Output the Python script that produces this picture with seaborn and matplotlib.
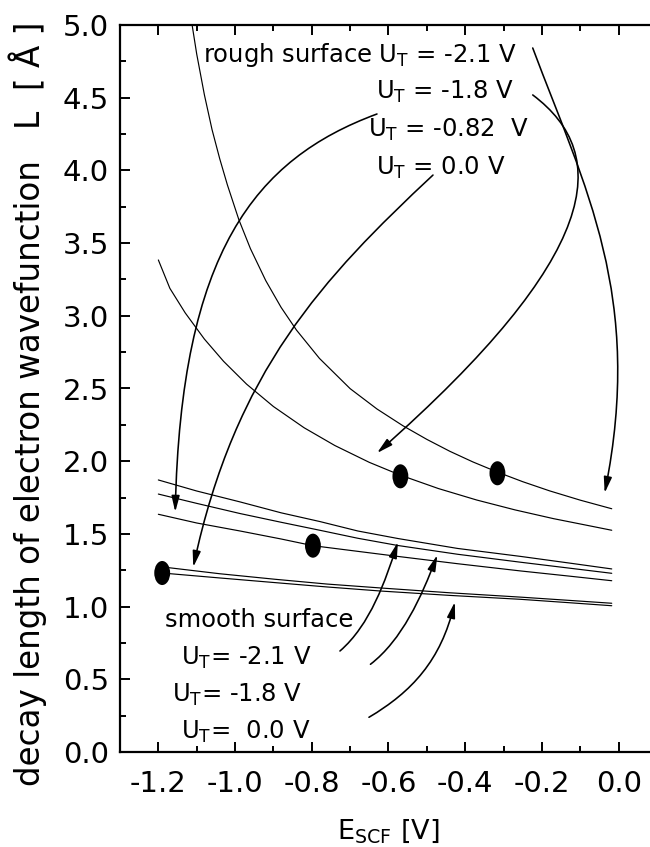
import numpy as np
import pandas as pd
import matplotlib
matplotlib.use("Agg")
import matplotlib.pyplot as plt
import seaborn as sns
from matplotlib.path import Path
from matplotlib.transforms import Affine2D
from matplotlib.patches import FancyArrowPatch
from matplotlib.ticker import MultipleLocator, FormatStrFormatter

# ---------------- data ----------------
# steep curve (rough surface)
curve_a_x = [-1.112, -1.10, -1.08, -1.06, -1.04, -1.02, -0.99, -0.96, -0.92, -0.88, -0.84,
             -0.78, -0.70, -0.63, -0.5625, -0.50, -0.44, -0.38, -0.315, -0.25, -0.18, -0.10, -0.018]
curve_a_y = [5.00, 4.80, 4.52, 4.28, 4.08, 3.90, 3.66, 3.462, 3.242, 3.058, 2.902,
             2.707, 2.499, 2.359, 2.244, 2.15, 2.068, 1.995, 1.924, 1.859, 1.796, 1.732, 1.673]
# second rough curve
curve_b_x = [-1.2, -1.17, -1.13, -1.08, -1.03, -0.97, -0.90, -0.82, -0.74, -0.65, -0.57,
             -0.47, -0.37, -0.27, -0.17, -0.09, -0.018]
curve_b_y = [3.384, 3.189, 3.02, 2.84, 2.687, 2.53, 2.376, 2.23, 2.108, 1.992, 1.905,
             1.812, 1.733, 1.665, 1.605, 1.563, 1.525]
# band of three curves
band_top_x = [-1.2, -1.1, -0.987, -0.88, -0.779, -0.68, -0.575, -0.42, -0.255, -0.13, -0.018]
band_top_y = [1.871, 1.795, 1.72, 1.645, 1.585, 1.52, 1.468, 1.40, 1.345, 1.30, 1.259]
band_mid_x = [-1.2, -1.1, -0.987, -0.88, -0.779, -0.68, -0.575, -0.42, -0.255, -0.13, -0.018]
band_mid_y = [1.774, 1.71, 1.64, 1.58, 1.525, 1.47, 1.42, 1.36, 1.305, 1.265, 1.229]
band_low_x = [-1.2, -1.1, -0.987, -0.88, -0.797, -0.68, -0.575, -0.42, -0.255, -0.13, -0.018]
band_low_y = [1.635, 1.575, 1.52, 1.465, 1.419, 1.38, 1.345, 1.295, 1.245, 1.21, 1.178]
# close pair of lowest curves
pair_up_x = [-1.174, -1.04, -0.896, -0.76, -0.62, -0.44, -0.255, -0.13, -0.018]
pair_up_y = [1.268, 1.226, 1.188, 1.155, 1.128, 1.095, 1.065, 1.043, 1.023]
pair_lo_x = [-1.19, -1.04, -0.896, -0.76, -0.62, -0.44, -0.255, -0.13, -0.018]
pair_lo_y = [1.231, 1.197, 1.165, 1.135, 1.107, 1.077, 1.05, 1.027, 1.006]
# measured points (filled ellipses)
meas_x = [-1.190, -0.797, -0.569, -0.316]
meas_y = [1.231, 1.419, 1.896, 1.917]

x_ticks = [-1.2, -1.0, -0.8, -0.6, -0.4, -0.2, 0.0]
y_ticks = [0.0, 0.5, 1.0, 1.5, 2.0, 2.5, 3.0, 3.5, 4.0, 4.5, 5.0]

rough_labels = ["rough surface $\\mathrm{U_T}$ = -2.1 V",
                "$\\mathrm{U_T}$ = -1.8 V",
                "$\\mathrm{U_T}$ = -0.82  V",
                "$\\mathrm{U_T}$ = 0.0 V"]
rough_label_x = [-1.083, -0.633, -0.654, -0.633]
rough_label_y = [4.744, 4.491, 4.232, 3.968]
smooth_labels = ["smooth surface",
                 "$\\mathrm{U_T}$= -2.1 V",
                 "$\\mathrm{U_T}$= -1.8 V",
                 "$\\mathrm{U_T}$=  0.0 V"]
smooth_label_x = [-1.182, -1.142, -1.164, -1.142]
smooth_label_y = [0.862, 0.598, 0.346, 0.094]

# arrows: start, two Bezier control points, tip (data coords)
arrows = [
    [(-0.224, 4.842), (-0.0867, 3.876), (0.0656, 3.131), (-0.0365, 1.781)],
    [(-0.224, 4.519), (-0.0156, 4.106), (-0.0443, 3.418), (-0.630, 2.056)],
    [(-0.630, 4.388), (-0.948, 4.078), (-1.141, 3.439), (-1.156, 1.651)],
    [(-0.484, 3.968), (-0.770, 3.263), (-1.0, 2.618), (-1.109, 1.272)],
    [(-0.7266, 0.6946), (-0.648, 0.873), (-0.607, 1.183), (-0.5755, 1.444)],
    [(-0.6471, 0.6032), (-0.565, 0.770), (-0.514, 1.066), (-0.4727, 1.355)],
    [(-0.651, 0.2387), (-0.539, 0.414), (-0.463, 0.631), (-0.427, 1.032)],
]

# ---------------- build long-form table ----------------
curves = {
    "a": (curve_a_x, curve_a_y),
    "b": (curve_b_x, curve_b_y),
    "band_top": (band_top_x, band_top_y),
    "band_mid": (band_mid_x, band_mid_y),
    "band_low": (band_low_x, band_low_y),
    "pair_up": (pair_up_x, pair_up_y),
    "pair_lo": (pair_lo_x, pair_lo_y),
}
rows = []
for name, (xs, ys) in curves.items():
    for xv, yv in zip(xs, ys):
        rows.append({"curve": name, "E": xv, "L": yv})
df = pd.DataFrame(rows)

# ---------------- style ----------------
sns.set_style("ticks")
plt.rcParams["font.family"] = ["DejaVu Sans"]
plt.rcParams["mathtext.fontset"] = "dejavusans"
plt.rcParams["axes.unicode_minus"] = False
for k in ["text.color", "axes.labelcolor", "xtick.color", "ytick.color", "axes.edgecolor"]:
    plt.rcParams[k] = "black"

fig = plt.figure(figsize=(6.5, 8.47), dpi=100)
ax = fig.add_axes([120 / 650, 95 / 847, 537 / 650, 727 / 847])

sns.lineplot(data=df, x="E", y="L", units="curve", estimator=None, sort=False,
             color="black", linewidth=0.85, ax=ax, legend=False)

ellipse = Path.unit_circle().transformed(Affine2D().scale(0.66, 1.0))
sns.scatterplot(x=meas_x, y=meas_y, marker=ellipse, s=300, color="black",
                edgecolor="none", ax=ax, legend=False, zorder=5)

for pts in arrows:
    p = Path(pts, [Path.MOVETO, Path.CURVE4, Path.CURVE4, Path.CURVE4])
    arr = FancyArrowPatch(path=p, arrowstyle="-|>,head_length=0.95,head_width=0.24",
                          mutation_scale=10, lw=1.15, color="black")
    ax.add_patch(arr)

for t, xv, yv in zip(rough_labels, rough_label_x, rough_label_y):
    ax.text(xv, yv, t, fontsize=17.5, ha="left", va="baseline", color="black")
for t, xv, yv in zip(smooth_labels, smooth_label_x, smooth_label_y):
    ax.text(xv, yv, t, fontsize=17.5, ha="left", va="baseline", color="black")

ax.set_xlim(-1.3, 0.1)
ax.set_ylim(0, 5)
ax.set_xticks(x_ticks)
ax.set_yticks(y_ticks)
ax.xaxis.set_minor_locator(MultipleLocator(0.1))
ax.yaxis.set_minor_locator(MultipleLocator(0.25))
ax.xaxis.set_major_formatter(FormatStrFormatter("%.1f"))
ax.yaxis.set_major_formatter(FormatStrFormatter("%.1f"))

for s in ["left", "bottom", "top"]:
    ax.spines[s].set_linewidth(1.6)
    ax.spines[s].set_color("black")
ax.spines["right"].set_visible(False)

ax.tick_params(which="both", direction="in", top=True, right=False, width=1.4, color="black",
               labelcolor="black")
ax.tick_params(which="major", length=7.5)
ax.tick_params(which="minor", length=4.3)
ax.tick_params(axis="x", which="major", labelsize=21, pad=13)
ax.tick_params(axis="y", which="major", labelsize=21, pad=8)

ax.set_xlabel("E$_{\\mathrm{SCF}}$ [V]", fontsize=19.5, color="black")
ax.xaxis.label.set_verticalalignment("baseline")
ax.xaxis.set_label_coords(0.5, (752 - 838) / 727)

ax.set_ylabel("decay length of electron wavefunction   L  [ Å ]", fontsize=23.5, color="black")
ax.yaxis.label.set_verticalalignment("baseline")
ax.yaxis.set_label_coords((40 - 120) / 537, (752 - 404) / 727)

fig.savefig("out.png", dpi=100)
